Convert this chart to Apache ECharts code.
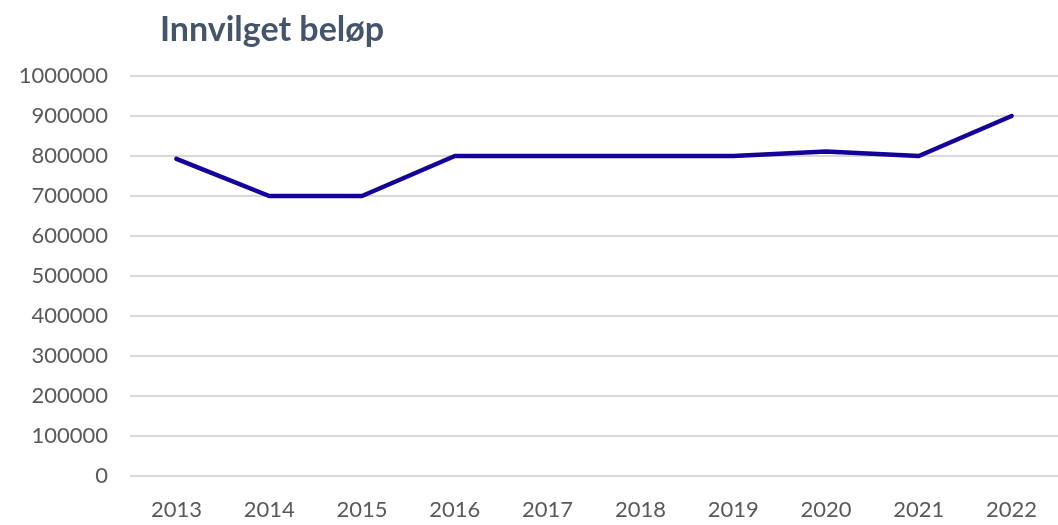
<!DOCTYPE html>
<html><head><meta charset="utf-8">
<script src="https://cdn.jsdelivr.net/npm/echarts@6/dist/echarts.min.js"></script>
<style>html,body{margin:0;padding:0;background:#fff}#c{width:1058px;height:525px}</style>
</head><body><div id="c"></div>
<script>
const categories = ['2013','2014','2015','2016','2017','2018','2019','2020','2021','2022'];
const values = [793000, 700000, 700000, 800000, 800000, 800000, 800000, 811000, 800000, 900000];
const titleText = 'Innvilget beløp';

const chart = echarts.init(document.getElementById('c'));
chart.setOption({
  animation: false,
  title: {
    text: titleText, left: 155, top: 8,
    textStyle: {fontFamily: 'Lato', fontWeight: 'bold', fontSize: 34, color: '#44546A'}
  },
  grid: {left: 130, right: 0, top: 76, bottom: 49},
  xAxis: {
    type: 'category', data: categories, boundaryGap: true,
    axisLine: {show: false}, axisTick: {show: false},
    axisLabel: {fontFamily: 'Lato', fontSize: 22, color: '#595959', margin: 23}
  },
  yAxis: {
    type: 'value', min: 0, max: 1000000, interval: 100000,
    axisLine: {show: false}, axisTick: {show: false},
    splitLine: {lineStyle: {color: '#d9d9d9', width: 2}},
    axisLabel: {fontFamily: 'Lato', fontSize: 22, color: '#595959', margin: 22,
      formatter: v => String(v)}
  },
  series: [{
    type: 'line', data: values, symbol: 'none',
    lineStyle: {color: '#14009A', width: 4.5, cap: 'round', join: 'round'}
  }]
});
</script></body></html>
